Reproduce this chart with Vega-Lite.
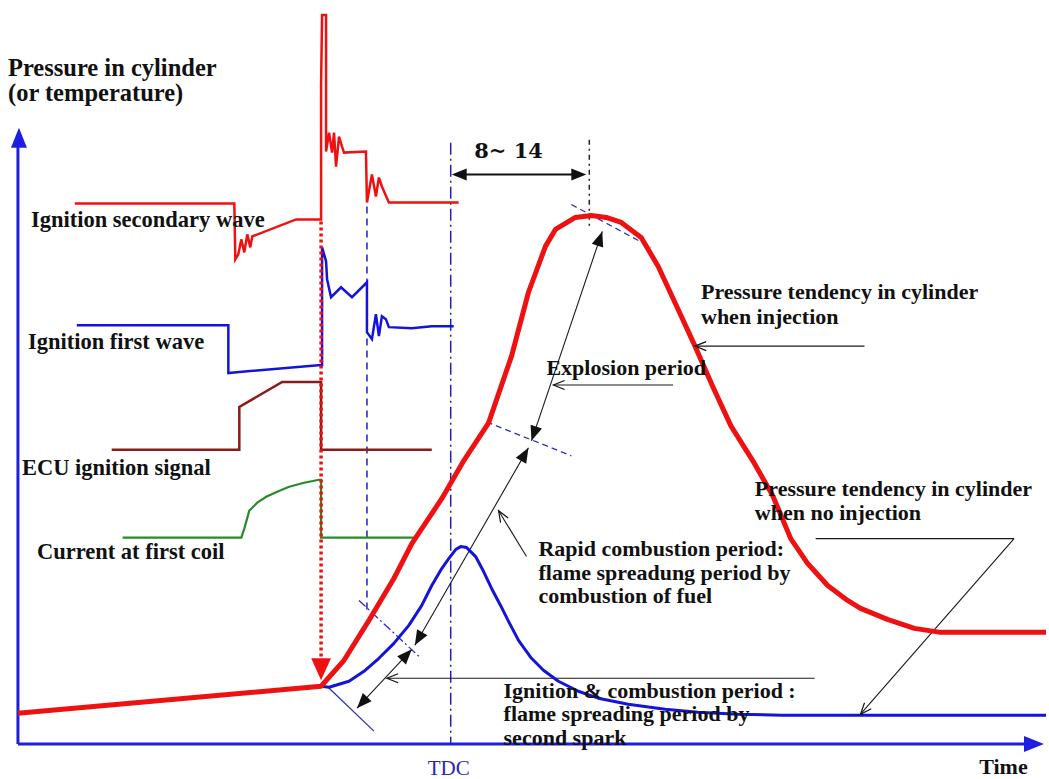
{
  "$schema": "https://vega.github.io/schema/vega-lite/v6.json",
  "width": 1049,
  "height": 779,
  "padding": 0,
  "autosize": {"type": "fit", "contains": "padding"},
  "background": "white",
  "config": {"view": {"stroke": null}},
  "datasets": {
    "curves": [
      {"s":"main","i":0,"x":18,"y":715},{"s":"main","i":1,"x":322,"y":688},{"s":"main","i":2,"x":345,"y":662},{"s":"main","i":3,"x":370,"y":622},{"s":"main","i":4,"x":395,"y":580},{"s":"main","i":5,"x":413,"y":545},{"s":"main","i":6,"x":443,"y":500},{"s":"main","i":7,"x":465,"y":462},{"s":"main","i":8,"x":490,"y":424},{"s":"main","i":9,"x":513,"y":357},{"s":"main","i":10,"x":530,"y":293},{"s":"main","i":11,"x":547,"y":247},{"s":"main","i":12,"x":557,"y":230},{"s":"main","i":13,"x":577,"y":218},{"s":"main","i":14,"x":593,"y":216},{"s":"main","i":15,"x":608,"y":218},{"s":"main","i":16,"x":623,"y":223},{"s":"main","i":17,"x":643,"y":238},{"s":"main","i":18,"x":660,"y":267},{"s":"main","i":19,"x":680,"y":310},{"s":"main","i":20,"x":697,"y":347},{"s":"main","i":21,"x":715,"y":388},{"s":"main","i":22,"x":733,"y":427},{"s":"main","i":23,"x":755,"y":462},{"s":"main","i":24,"x":775,"y":497},{"s":"main","i":25,"x":793,"y":540},{"s":"main","i":26,"x":810,"y":565},{"s":"main","i":27,"x":830,"y":587},{"s":"main","i":28,"x":850,"y":602},{"s":"main","i":29,"x":863,"y":610},{"s":"main","i":30,"x":890,"y":621},{"s":"main","i":31,"x":917,"y":630},{"s":"main","i":32,"x":943,"y":634},{"s":"main","i":33,"x":1049,"y":634},
      {"s":"noinj","i":0,"x":322,"y":688},{"s":"noinj","i":1,"x":330,"y":689},{"s":"noinj","i":2,"x":350,"y":683},{"s":"noinj","i":3,"x":365,"y":673},{"s":"noinj","i":4,"x":380,"y":660},{"s":"noinj","i":5,"x":395,"y":645},{"s":"noinj","i":6,"x":410,"y":627},{"s":"noinj","i":7,"x":423,"y":607},{"s":"noinj","i":8,"x":433,"y":587},{"s":"noinj","i":9,"x":443,"y":570},{"s":"noinj","i":10,"x":450,"y":560},{"s":"noinj","i":11,"x":457,"y":551},{"s":"noinj","i":12,"x":462,"y":548},{"s":"noinj","i":13,"x":468,"y":549},{"s":"noinj","i":14,"x":477,"y":558},{"s":"noinj","i":15,"x":485,"y":573},{"s":"noinj","i":16,"x":493,"y":590},{"s":"noinj","i":17,"x":502,"y":607},{"s":"noinj","i":18,"x":510,"y":623},{"s":"noinj","i":19,"x":520,"y":642},{"s":"noinj","i":20,"x":533,"y":660},{"s":"noinj","i":21,"x":545,"y":672},{"s":"noinj","i":22,"x":560,"y":683},{"s":"noinj","i":23,"x":580,"y":693},{"s":"noinj","i":24,"x":600,"y":700},{"s":"noinj","i":25,"x":630,"y":706},{"s":"noinj","i":26,"x":667,"y":711},{"s":"noinj","i":27,"x":700,"y":714},{"s":"noinj","i":28,"x":740,"y":716},{"s":"noinj","i":29,"x":785,"y":717},{"s":"noinj","i":30,"x":1049,"y":717},
      {"s":"sec","i":0,"x":75,"y":204},{"s":"sec","i":1,"x":235,"y":204},{"s":"sec","i":2,"x":236,"y":260},{"s":"sec","i":3,"x":239,"y":255},{"s":"sec","i":4,"x":242,"y":240},{"s":"sec","i":5,"x":245,"y":253},{"s":"sec","i":6,"x":248,"y":235},{"s":"sec","i":7,"x":251,"y":248},{"s":"sec","i":8,"x":253,"y":237},{"s":"sec","i":9,"x":297,"y":220},{"s":"sec","i":10,"x":322,"y":220},{"s":"sec","i":11,"x":322,"y":152},{"s":"sec","i":12,"x":322,"y":85},{"s":"sec","i":13,"x":323,"y":15},{"s":"sec","i":14,"x":327,"y":15},{"s":"sec","i":15,"x":327,"y":152},{"s":"sec","i":16,"x":330,"y":133},{"s":"sec","i":17,"x":333,"y":153},{"s":"sec","i":18,"x":335,"y":133},{"s":"sec","i":19,"x":337,"y":167},{"s":"sec","i":20,"x":340,"y":137},{"s":"sec","i":21,"x":343,"y":147},{"s":"sec","i":22,"x":345,"y":153},{"s":"sec","i":23,"x":367,"y":152},{"s":"sec","i":24,"x":368,"y":203},{"s":"sec","i":25,"x":373,"y":175},{"s":"sec","i":26,"x":377,"y":197},{"s":"sec","i":27,"x":380,"y":178},{"s":"sec","i":28,"x":383,"y":187},{"s":"sec","i":29,"x":390,"y":203},{"s":"sec","i":30,"x":460,"y":203},
      {"s":"first","i":0,"x":77,"y":326},{"s":"first","i":1,"x":229,"y":326},{"s":"first","i":2,"x":229,"y":374},{"s":"first","i":3,"x":240,"y":373},{"s":"first","i":4,"x":322,"y":366},{"s":"first","i":5,"x":323,"y":366},{"s":"first","i":6,"x":323,"y":248},{"s":"first","i":7,"x":327,"y":262},{"s":"first","i":8,"x":328,"y":280},{"s":"first","i":9,"x":332,"y":298},{"s":"first","i":10,"x":342,"y":288},{"s":"first","i":11,"x":353,"y":298},{"s":"first","i":12,"x":368,"y":283},{"s":"first","i":13,"x":368,"y":333},{"s":"first","i":14,"x":373,"y":340},{"s":"first","i":15,"x":377,"y":315},{"s":"first","i":16,"x":380,"y":337},{"s":"first","i":17,"x":383,"y":317},{"s":"first","i":18,"x":387,"y":320},{"s":"first","i":19,"x":390,"y":328},{"s":"first","i":20,"x":413,"y":329},{"s":"first","i":21,"x":433,"y":327},{"s":"first","i":22,"x":455,"y":327},
      {"s":"ecu","i":0,"x":112,"y":451},{"s":"ecu","i":1,"x":240,"y":451},{"s":"ecu","i":2,"x":240,"y":408},{"s":"ecu","i":3,"x":283,"y":383},{"s":"ecu","i":4,"x":322,"y":383},{"s":"ecu","i":5,"x":322,"y":451},{"s":"ecu","i":6,"x":433,"y":451},
      {"s":"coil","i":0,"x":123,"y":539},{"s":"coil","i":1,"x":242,"y":539},{"s":"coil","i":2,"x":245,"y":530},{"s":"coil","i":3,"x":250,"y":512},{"s":"coil","i":4,"x":258,"y":504},{"s":"coil","i":5,"x":267,"y":498},{"s":"coil","i":6,"x":278,"y":493},{"s":"coil","i":7,"x":290,"y":488},{"s":"coil","i":8,"x":305,"y":484},{"s":"coil","i":9,"x":320,"y":481},{"s":"coil","i":10,"x":322,"y":481},{"s":"coil","i":11,"x":322,"y":539},{"s":"coil","i":12,"x":415,"y":539}
    ],
    "rules": [
      {"s":"axis","x":18,"y":746,"x2":18,"y2":140},
      {"s":"axis","x":18,"y":746,"x2":1035,"y2":746},
      {"s":"reddot","x":322,"y":222,"x2":322,"y2":662},
      {"s":"bdash","x":368,"y":195,"x2":368,"y2":615},
      {"s":"bdashdot","x":452,"y":143,"x2":452,"y2":746},
      {"s":"kdashdot","x":591,"y":140,"x2":591,"y2":228},
      {"s":"kthick","x":460,"y":175,"x2":580,"y2":175},
      {"s":"tandash","x":573,"y":205,"x2":653,"y2":248},
      {"s":"tandash","x":488,"y":423,"x2":573,"y2":457},
      {"s":"tandd","x":360,"y":602,"x2":420,"y2":658},
      {"s":"tansolid","x":328,"y":688,"x2":375,"y2":733},
      {"s":"kthin","x":533,"y":442,"x2":604,"y2":232},
      {"s":"kthin","x":416,"y":647,"x2":530,"y2":449},
      {"s":"kthin","x":358,"y":710,"x2":413,"y2":651},
      {"s":"kthin","x":697,"y":347,"x2":867,"y2":347},
      {"s":"kthin","x":555,"y":386,"x2":675,"y2":386},
      {"s":"kthin","x":500,"y":512,"x2":528,"y2":558},
      {"s":"kthin","x":388,"y":680,"x2":817,"y2":680},
      {"s":"kthin","x":818,"y":540,"x2":1017,"y2":540},
      {"s":"kthin","x":1017,"y":540,"x2":863,"y2":716}
    ],
    "heads": [
      {"id":"A","x":453,"y":175},{"id":"B","x":588,"y":175},
      {"id":"C","x":604,"y":232},{"id":"D","x":533,"y":442},
      {"id":"E","x":530,"y":449},{"id":"F","x":416,"y":647},
      {"id":"G","x":413,"y":651},{"id":"H","x":358,"y":710},
      {"id":"I","x":697,"y":347},{"id":"J","x":555,"y":386},
      {"id":"K","x":500,"y":512},{"id":"L","x":388,"y":680},
      {"id":"M","x":863,"y":716},
      {"id":"R","x":322,"y":682},{"id":"Y","x":19,"y":128},{"id":"X","x":1047,"y":746}
    ],
    "labels": [
      {"g":"title","x":8,"y":76,"t":"Pressure in cylinder"},
      {"g":"title","x":8,"y":101,"t":"(or temperature)"},
      {"g":"left","x":31,"y":228,"t":"Ignition secondary wave"},
      {"g":"left","x":28,"y":350,"t":"Ignition first wave"},
      {"g":"left","x":22,"y":476,"t":"ECU ignition signal"},
      {"g":"left","x":37,"y":560,"t":"Current at first coil"},
      {"g":"right","x":703,"y":300,"t":"Pressure tendency in cylinder"},
      {"g":"right","x":703,"y":325,"t":"when  injection"},
      {"g":"right","x":548,"y":376,"t":"Explosion period"},
      {"g":"right","x":540,"y":557,"t":"Rapid combustion period:"},
      {"g":"right","x":540,"y":581,"t":"flame spreadung period by"},
      {"g":"right","x":540,"y":605,"t":"combustion of fuel"},
      {"g":"right","x":505,"y":700,"t":"Ignition & combustion period :"},
      {"g":"right","x":505,"y":723,"t":"flame spreading period by"},
      {"g":"right","x":505,"y":747,"t":"second spark"},
      {"g":"right","x":757,"y":497,"t":"Pressure tendency in cylinder"},
      {"g":"right","x":757,"y":521,"t":"when no injection"},
      {"g":"right","x":982,"y":776,"t":"Time"},
      {"g":"range","x":510,"y":158,"t":"8~ 14"},
      {"g":"tdc","x":450,"y":777,"t":"TDC"}
    ]
  },
  "layer": [
    {"data":{"name":"rules"},"transform":[{"filter":"datum.s==='axis'"}],"mark":{"type":"rule","color":"#1E1EE0","strokeWidth":3},
     "encoding":{"x":{"field":"x","type":"quantitative","scale":{"domain":[0,1049],"nice":false,"zero":false},"axis":null},"y":{"field":"y","type":"quantitative","scale":{"domain":[0,779],"reverse":true,"nice":false,"zero":false},"axis":null},"x2":{"field":"x2"},"y2":{"field":"y2"}}},
    {"data":{"name":"rules"},"transform":[{"filter":"datum.s==='bdash'"}],"mark":{"type":"rule","color":"#2020C0","strokeWidth":1.5,"strokeDash":[7,5]},
     "encoding":{"x":{"field":"x","type":"quantitative","axis":null},"y":{"field":"y","type":"quantitative","axis":null},"x2":{"field":"x2"},"y2":{"field":"y2"}}},
    {"data":{"name":"rules"},"transform":[{"filter":"datum.s==='bdashdot'"}],"mark":{"type":"rule","color":"#2020B0","strokeWidth":1.5,"strokeDash":[12,4,2,4]},
     "encoding":{"x":{"field":"x","type":"quantitative","axis":null},"y":{"field":"y","type":"quantitative","axis":null},"x2":{"field":"x2"},"y2":{"field":"y2"}}},
    {"data":{"name":"rules"},"transform":[{"filter":"datum.s==='kdashdot'"}],"mark":{"type":"rule","color":"#222222","strokeWidth":1.5,"strokeDash":[5,4,2,4]},
     "encoding":{"x":{"field":"x","type":"quantitative","axis":null},"y":{"field":"y","type":"quantitative","axis":null},"x2":{"field":"x2"},"y2":{"field":"y2"}}},
    {"data":{"name":"rules"},"transform":[{"filter":"datum.s==='tandash'"}],"mark":{"type":"rule","color":"#3030C0","strokeWidth":1.3,"strokeDash":[6,4]},
     "encoding":{"x":{"field":"x","type":"quantitative","axis":null},"y":{"field":"y","type":"quantitative","axis":null},"x2":{"field":"x2"},"y2":{"field":"y2"}}},
    {"data":{"name":"rules"},"transform":[{"filter":"datum.s==='tandd'"}],"mark":{"type":"rule","color":"#3030C0","strokeWidth":1.3,"strokeDash":[9,3,2,3]},
     "encoding":{"x":{"field":"x","type":"quantitative","axis":null},"y":{"field":"y","type":"quantitative","axis":null},"x2":{"field":"x2"},"y2":{"field":"y2"}}},
    {"data":{"name":"rules"},"transform":[{"filter":"datum.s==='tansolid'"}],"mark":{"type":"rule","color":"#3030C0","strokeWidth":1.3},
     "encoding":{"x":{"field":"x","type":"quantitative","axis":null},"y":{"field":"y","type":"quantitative","axis":null},"x2":{"field":"x2"},"y2":{"field":"y2"}}},
    {"data":{"name":"rules"},"transform":[{"filter":"datum.s==='kthin'"}],"mark":{"type":"rule","color":"#1a1a1a","strokeWidth":1.1},
     "encoding":{"x":{"field":"x","type":"quantitative","axis":null},"y":{"field":"y","type":"quantitative","axis":null},"x2":{"field":"x2"},"y2":{"field":"y2"}}},
    {"data":{"name":"rules"},"transform":[{"filter":"datum.s==='kthick'"}],"mark":{"type":"rule","color":"#111111","strokeWidth":2},
     "encoding":{"x":{"field":"x","type":"quantitative","axis":null},"y":{"field":"y","type":"quantitative","axis":null},"x2":{"field":"x2"},"y2":{"field":"y2"}}},
    {"data":{"name":"curves"},"transform":[{"filter":"datum.s==='ecu'"}],"mark":{"type":"line","color":"#8B1A1A","strokeWidth":2.5},
     "encoding":{"x":{"field":"x","type":"quantitative","axis":null},"y":{"field":"y","type":"quantitative","axis":null},"order":{"field":"i"}}},
    {"data":{"name":"curves"},"transform":[{"filter":"datum.s==='coil'"}],"mark":{"type":"line","color":"#2A8A2A","strokeWidth":2.2},
     "encoding":{"x":{"field":"x","type":"quantitative","axis":null},"y":{"field":"y","type":"quantitative","axis":null},"order":{"field":"i"}}},
    {"data":{"name":"curves"},"transform":[{"filter":"datum.s==='first'"}],"mark":{"type":"line","color":"#1414D8","strokeWidth":2.5},
     "encoding":{"x":{"field":"x","type":"quantitative","axis":null},"y":{"field":"y","type":"quantitative","axis":null},"order":{"field":"i"}}},
    {"data":{"name":"curves"},"transform":[{"filter":"datum.s==='sec'"}],"mark":{"type":"line","color":"#EE1111","strokeWidth":2.5},
     "encoding":{"x":{"field":"x","type":"quantitative","axis":null},"y":{"field":"y","type":"quantitative","axis":null},"order":{"field":"i"}}},
    {"data":{"name":"rules"},"transform":[{"filter":"datum.s==='reddot'"}],"mark":{"type":"rule","color":"#EE1111","strokeWidth":3.5,"strokeDash":[3,3]},
     "encoding":{"x":{"field":"x","type":"quantitative","axis":null},"y":{"field":"y","type":"quantitative","axis":null},"x2":{"field":"x2"},"y2":{"field":"y2"}}},
    {"data":{"name":"curves"},"transform":[{"filter":"datum.s==='noinj'"}],"mark":{"type":"line","color":"#1414D8","strokeWidth":3,"strokeJoin":"round"},
     "encoding":{"x":{"field":"x","type":"quantitative","axis":null},"y":{"field":"y","type":"quantitative","axis":null},"order":{"field":"i"}}},
    {"data":{"name":"curves"},"transform":[{"filter":"datum.s==='main'"}],"mark":{"type":"line","color":"#EE1111","strokeWidth":5,"strokeJoin":"round"},
     "encoding":{"x":{"field":"x","type":"quantitative","axis":null},"y":{"field":"y","type":"quantitative","axis":null},"order":{"field":"i"}}},
    {"data":{"name":"heads"},"transform":[{"filter":"datum.id==='A'"}],"mark":{"type":"point","shape":"M0,0L0.4,1L-0.4,1Z","filled":true,"color":"#111111","opacity":1,"size":900,"angle":270},
     "encoding":{"x":{"field":"x","type":"quantitative","axis":null},"y":{"field":"y","type":"quantitative","axis":null}}},
    {"data":{"name":"heads"},"transform":[{"filter":"datum.id==='B'"}],"mark":{"type":"point","shape":"M0,0L0.4,1L-0.4,1Z","filled":true,"color":"#111111","opacity":1,"size":900,"angle":90},
     "encoding":{"x":{"field":"x","type":"quantitative","axis":null},"y":{"field":"y","type":"quantitative","axis":null}}},
    {"data":{"name":"heads"},"transform":[{"filter":"datum.id==='C'"}],"mark":{"type":"point","shape":"M0,0L0.4,1L-0.4,1Z","filled":true,"color":"#111111","opacity":1,"size":900,"angle":18.7},
     "encoding":{"x":{"field":"x","type":"quantitative","axis":null},"y":{"field":"y","type":"quantitative","axis":null}}},
    {"data":{"name":"heads"},"transform":[{"filter":"datum.id==='D'"}],"mark":{"type":"point","shape":"M0,0L0.4,1L-0.4,1Z","filled":true,"color":"#111111","opacity":1,"size":900,"angle":198.7},
     "encoding":{"x":{"field":"x","type":"quantitative","axis":null},"y":{"field":"y","type":"quantitative","axis":null}}},
    {"data":{"name":"heads"},"transform":[{"filter":"datum.id==='E'"}],"mark":{"type":"point","shape":"M0,0L0.4,1L-0.4,1Z","filled":true,"color":"#111111","opacity":1,"size":900,"angle":29.9},
     "encoding":{"x":{"field":"x","type":"quantitative","axis":null},"y":{"field":"y","type":"quantitative","axis":null}}},
    {"data":{"name":"heads"},"transform":[{"filter":"datum.id==='F'"}],"mark":{"type":"point","shape":"M0,0L0.4,1L-0.4,1Z","filled":true,"color":"#111111","opacity":1,"size":900,"angle":209.9},
     "encoding":{"x":{"field":"x","type":"quantitative","axis":null},"y":{"field":"y","type":"quantitative","axis":null}}},
    {"data":{"name":"heads"},"transform":[{"filter":"datum.id==='G'"}],"mark":{"type":"point","shape":"M0,0L0.4,1L-0.4,1Z","filled":true,"color":"#111111","opacity":1,"size":900,"angle":43},
     "encoding":{"x":{"field":"x","type":"quantitative","axis":null},"y":{"field":"y","type":"quantitative","axis":null}}},
    {"data":{"name":"heads"},"transform":[{"filter":"datum.id==='H'"}],"mark":{"type":"point","shape":"M0,0L0.4,1L-0.4,1Z","filled":true,"color":"#111111","opacity":1,"size":900,"angle":223},
     "encoding":{"x":{"field":"x","type":"quantitative","axis":null},"y":{"field":"y","type":"quantitative","axis":null}}},
    {"data":{"name":"heads"},"transform":[{"filter":"datum.id==='I' || datum.id==='J' || datum.id==='L'"}],"mark":{"type":"point","shape":"M-0.4,1L0,0L0.4,1","filled":false,"color":"#111111","opacity":1,"strokeWidth":1.2,"size":500,"angle":270},
     "encoding":{"x":{"field":"x","type":"quantitative","axis":null},"y":{"field":"y","type":"quantitative","axis":null}}},
    {"data":{"name":"heads"},"transform":[{"filter":"datum.id==='K'"}],"mark":{"type":"point","shape":"M-0.4,1L0,0L0.4,1","filled":false,"color":"#111111","opacity":1,"strokeWidth":1.2,"size":500,"angle":328.7},
     "encoding":{"x":{"field":"x","type":"quantitative","axis":null},"y":{"field":"y","type":"quantitative","axis":null}}},
    {"data":{"name":"heads"},"transform":[{"filter":"datum.id==='M'"}],"mark":{"type":"point","shape":"M-0.4,1L0,0L0.4,1","filled":false,"color":"#111111","opacity":1,"strokeWidth":1.2,"size":500,"angle":221.2},
     "encoding":{"x":{"field":"x","type":"quantitative","axis":null},"y":{"field":"y","type":"quantitative","axis":null}}},
    {"data":{"name":"heads"},"transform":[{"filter":"datum.id==='R'"}],"mark":{"type":"point","shape":"M0,0L0.45,1L-0.45,1Z","filled":true,"color":"#EE1111","opacity":1,"size":1936,"angle":180},
     "encoding":{"x":{"field":"x","type":"quantitative","axis":null},"y":{"field":"y","type":"quantitative","axis":null}}},
    {"data":{"name":"heads"},"transform":[{"filter":"datum.id==='Y'"}],"mark":{"type":"point","shape":"M0,0L0.4,1L-0.4,1Z","filled":true,"color":"#1E1EE0","opacity":1,"size":1600,"angle":0},
     "encoding":{"x":{"field":"x","type":"quantitative","axis":null},"y":{"field":"y","type":"quantitative","axis":null}}},
    {"data":{"name":"heads"},"transform":[{"filter":"datum.id==='X'"}],"mark":{"type":"point","shape":"M0,0L0.4,1L-0.4,1Z","filled":true,"color":"#1E1EE0","opacity":1,"size":1600,"angle":90},
     "encoding":{"x":{"field":"x","type":"quantitative","axis":null},"y":{"field":"y","type":"quantitative","axis":null}}},
    {"data":{"name":"labels"},"transform":[{"filter":"datum.g==='title'"}],"mark":{"type":"text","align":"left","baseline":"alphabetic","font":"Liberation Serif","fontWeight":"bold","fontSize":24.5,"color":"#111111"},
     "encoding":{"x":{"field":"x","type":"quantitative","axis":null},"y":{"field":"y","type":"quantitative","axis":null},"text":{"field":"t"}}},
    {"data":{"name":"labels"},"transform":[{"filter":"datum.g==='left'"}],"mark":{"type":"text","align":"left","baseline":"alphabetic","font":"Liberation Serif","fontWeight":"bold","fontSize":22.5,"color":"#111111"},
     "encoding":{"x":{"field":"x","type":"quantitative","axis":null},"y":{"field":"y","type":"quantitative","axis":null},"text":{"field":"t"}}},
    {"data":{"name":"labels"},"transform":[{"filter":"datum.g==='right'"}],"mark":{"type":"text","align":"left","baseline":"alphabetic","font":"Liberation Serif","fontWeight":"bold","fontSize":22,"color":"#111111"},
     "encoding":{"x":{"field":"x","type":"quantitative","axis":null},"y":{"field":"y","type":"quantitative","axis":null},"text":{"field":"t"}}},
    {"data":{"name":"labels"},"transform":[{"filter":"datum.g==='range'"}],"mark":{"type":"text","align":"center","baseline":"alphabetic","font":"DejaVu Serif","fontWeight":"bold","fontSize":21,"color":"#111111"},
     "encoding":{"x":{"field":"x","type":"quantitative","axis":null},"y":{"field":"y","type":"quantitative","axis":null},"text":{"field":"t"}}},
    {"data":{"name":"labels"},"transform":[{"filter":"datum.g==='tdc'"}],"mark":{"type":"text","align":"center","baseline":"alphabetic","font":"Liberation Serif","fontSize":21,"color":"#2828B0"},
     "encoding":{"x":{"field":"x","type":"quantitative","axis":null},"y":{"field":"y","type":"quantitative","axis":null},"text":{"field":"t"}}}
  ]
}
